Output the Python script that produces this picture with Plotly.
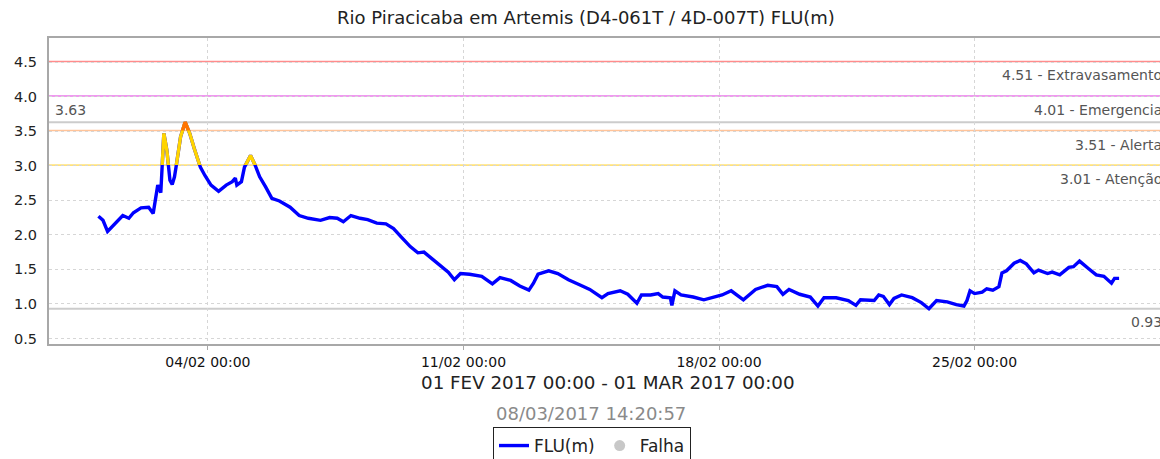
import plotly.graph_objects as go

# Water level readings (FLU, metres) for the gauge, Feb 2017
times = [
    "2017-02-01 00:00", "2017-02-01 03:00", "2017-02-01 06:00", "2017-02-01 11:00",
    "2017-02-01 16:00", "2017-02-01 20:00", "2017-02-01 23:00", "2017-02-02 04:00",
    "2017-02-02 09:00", "2017-02-02 12:00", "2017-02-02 14:00", "2017-02-02 15:00",
    "2017-02-02 17:00", "2017-02-02 18:00", "2017-02-02 19:00", "2017-02-02 21:00",
    "2017-02-02 22:00", "2017-02-02 23:00", "2017-02-03 00:30", "2017-02-03 02:00",
    "2017-02-03 03:00", "2017-02-03 06:00", "2017-02-03 09:00", "2017-02-03 12:00",
    "2017-02-03 15:00", "2017-02-03 19:00", "2017-02-03 22:00", "2017-02-04 02:00",
    "2017-02-04 07:00", "2017-02-04 12:00", "2017-02-04 16:00", "2017-02-04 18:00",
    "2017-02-04 19:00", "2017-02-04 22:00", "2017-02-05 00:00", "2017-02-05 04:00",
    "2017-02-05 07:00", "2017-02-05 10:00", "2017-02-05 14:00", "2017-02-05 18:00",
    "2017-02-05 23:00", "2017-02-06 06:00", "2017-02-06 12:00", "2017-02-06 18:00",
    "2017-02-07 02:00", "2017-02-07 08:00", "2017-02-07 13:00", "2017-02-07 17:00",
    "2017-02-07 22:00", "2017-02-08 04:00", "2017-02-08 09:00", "2017-02-08 15:00",
    "2017-02-08 21:00", "2017-02-09 02:00", "2017-02-09 07:00", "2017-02-09 13:00",
    "2017-02-09 18:00", "2017-02-09 22:00", "2017-02-10 03:00", "2017-02-10 10:00",
    "2017-02-10 14:00", "2017-02-10 18:00", "2017-02-10 22:00", "2017-02-11 04:00",
    "2017-02-11 12:00", "2017-02-11 19:00", "2017-02-12 00:00", "2017-02-12 07:00",
    "2017-02-12 13:00", "2017-02-12 19:00", "2017-02-12 22:00", "2017-02-13 01:00",
    "2017-02-13 08:00", "2017-02-13 14:00", "2017-02-13 21:00", "2017-02-14 05:00",
    "2017-02-14 11:00", "2017-02-14 19:00", "2017-02-14 23:00", "2017-02-15 07:00",
    "2017-02-15 12:00", "2017-02-15 18:00", "2017-02-15 21:00", "2017-02-16 03:00",
    "2017-02-16 08:00", "2017-02-16 11:00", "2017-02-16 16:00", "2017-02-16 17:00",
    "2017-02-16 19:00", "2017-02-16 23:00", "2017-02-17 07:00", "2017-02-17 14:00",
    "2017-02-17 20:00", "2017-02-18 02:00", "2017-02-18 08:00", "2017-02-18 16:00",
    "2017-02-19 00:00", "2017-02-19 08:00", "2017-02-19 14:00", "2017-02-19 18:00",
    "2017-02-19 22:00", "2017-02-20 05:00", "2017-02-20 12:00", "2017-02-20 17:00",
    "2017-02-20 21:00", "2017-02-21 05:00", "2017-02-21 13:00", "2017-02-21 18:00",
    "2017-02-21 21:00", "2017-02-22 06:00", "2017-02-22 09:00", "2017-02-22 12:00",
    "2017-02-22 16:00", "2017-02-22 19:00", "2017-02-23 00:00", "2017-02-23 07:00",
    "2017-02-23 13:00", "2017-02-23 18:00", "2017-02-23 23:00", "2017-02-24 06:00",
    "2017-02-24 12:00", "2017-02-24 17:00", "2017-02-24 19:00", "2017-02-24 21:00",
    "2017-02-25 00:00", "2017-02-25 05:00", "2017-02-25 08:00", "2017-02-25 12:00",
    "2017-02-25 16:00", "2017-02-25 18:00", "2017-02-25 21:00", "2017-02-26 02:00",
    "2017-02-26 06:00", "2017-02-26 10:00", "2017-02-26 15:00", "2017-02-26 18:00",
    "2017-02-27 00:00", "2017-02-27 03:00", "2017-02-27 08:00", "2017-02-27 14:00",
    "2017-02-27 17:00", "2017-02-27 21:00", "2017-02-28 03:00", "2017-02-28 08:00",
    "2017-02-28 13:00", "2017-02-28 18:00", "2017-02-28 20:00", "2017-02-28 23:00",
]
levels = [
    2.27, 2.21, 2.05, 2.16,
    2.28, 2.24, 2.32, 2.39,
    2.40, 2.31, 2.60, 2.72,
    2.61, 2.96, 3.47, 3.22,
    2.98, 2.79, 2.73, 2.84,
    2.98, 3.42, 3.63, 3.47,
    3.25, 2.98, 2.86, 2.72,
    2.63, 2.72, 2.77, 2.82,
    2.72, 2.77, 2.98, 3.15,
    3.01, 2.84, 2.69, 2.53,
    2.49, 2.40, 2.28, 2.24,
    2.21, 2.25, 2.24, 2.19,
    2.28, 2.24, 2.22, 2.17,
    2.16, 2.09, 1.97, 1.83,
    1.74, 1.75, 1.66, 1.54,
    1.46, 1.35, 1.44, 1.43,
    1.40, 1.29, 1.38, 1.34,
    1.26, 1.20, 1.30, 1.43,
    1.48, 1.44, 1.35, 1.27,
    1.21, 1.09, 1.15, 1.19,
    1.14, 1.01, 1.13, 1.13,
    1.15, 1.10, 1.09, 0.98,
    1.19, 1.13, 1.10, 1.06,
    1.10, 1.13, 1.19, 1.06,
    1.21, 1.27, 1.25, 1.14,
    1.21, 1.14, 1.10, 0.97,
    1.09, 1.09, 1.05, 0.98,
    1.06, 1.05, 1.13, 1.11,
    0.99, 1.08, 1.13, 1.09,
    1.02, 0.93, 1.05, 1.03,
    0.99, 0.97, 1.05, 1.19,
    1.15, 1.17, 1.22, 1.20,
    1.25, 1.45, 1.48, 1.59,
    1.63, 1.58, 1.45, 1.49,
    1.44, 1.46, 1.42, 1.53,
    1.54, 1.62, 1.51, 1.42,
    1.40, 1.30, 1.37, 1.37,
]

# Alarm levels
limit_values = [4.51, 4.01, 3.51, 3.01]
limit_names = ["Extravasamento", "Emergencia", "Alerta", "Atenção"]
limit_colors = ["#ff8c8c", "#ea78ea", "#ffc49a", "#ffe27a"]

title_text = "Rio Piracicaba em Artemis (D4-061T / 4D-007T) FLU(m)"
period_text = "01 FEV 2017 00:00 - 01 MAR 2017 00:00"
stamp_text = "08/03/2017 14:20:57"

W, H = 1160, 459
L, T, B = 49, 38, 115
plot_w = W - L
plot_h = H - T - B

y_lo, y_hi = 0.42, 4.85
x_range = ["2017-01-30 15:30", "2017-03-02 01:54"]
FONT = "DejaVu Sans"


def yfrac(v):
    return (v - y_lo) / (y_hi - y_lo)


def px_x(p):
    return (p - L) / plot_w


def px_y(p):
    return (H - B - p) / plot_h


level_max = max(levels)
level_min = min(levels)

fig = go.Figure()
fig.add_trace(go.Scatter(
    x=times, y=levels, mode="lines", name="FLU(m)",
    line=dict(color="#0000ff", width=3.4),
))
fig.add_trace(go.Scatter(
    x=[None], y=[None], mode="markers", name="Falha",
    marker=dict(color="#c8c8c8", size=11),
))
# Same series redrawn on axes whose domains start at the alarm levels,
# so only the parts above each level show in the alarm colour.
fig.add_trace(go.Scatter(
    x=times, y=levels, mode="lines", yaxis="y2", showlegend=False,
    line=dict(color="#ffd400", width=3.4), hoverinfo="skip",
))
fig.add_trace(go.Scatter(
    x=times, y=levels, mode="lines", yaxis="y3", showlegend=False,
    line=dict(color="#ff7400", width=3.4), hoverinfo="skip",
))

shapes = []
annotations = []
for v, name, col in zip(limit_values, limit_names, limit_colors):
    shapes.append(dict(type="line", xref="paper", yref="y", x0=0, x1=1, y0=v, y1=v,
                       line=dict(color=col, width=1.6), layer="below"))
    annotations.append(dict(text=f"{v:.2f} - {name}", xref="paper", yref="y",
                            x=px_x(1164), y=v, xanchor="right", yanchor="middle",
                            yshift=-14, showarrow=False,
                            font=dict(family=FONT, size=14, color="#555555")))

for v in (level_max, level_min):
    shapes.append(dict(type="line", xref="paper", yref="y", x0=0, x1=1, y0=v, y1=v,
                       line=dict(color="#cccccc", width=2), layer="below"))
annotations.append(dict(text=f"{level_max:.2f}", xref="paper", yref="y",
                        x=px_x(53), y=level_max, xanchor="left", yanchor="middle",
                        yshift=12, showarrow=False,
                        font=dict(family=FONT, size=14, color="#555555")))
annotations.append(dict(text=f"{level_min:.2f}", xref="paper", yref="y",
                        x=px_x(1164), y=level_min, xanchor="right", yanchor="middle",
                        yshift=-13, showarrow=False,
                        font=dict(family=FONT, size=14, color="#555555")))
annotations.append(dict(text=period_text, xref="paper", yref="paper",
                        x=px_x(608), y=px_y(382), xanchor="center", yanchor="middle",
                        showarrow=False, font=dict(family=FONT, size=18.3, color="#222222")))
annotations.append(dict(text=stamp_text, xref="paper", yref="paper",
                        x=px_x(591), y=px_y(413), xanchor="center", yanchor="middle",
                        showarrow=False, font=dict(family=FONT, size=18, color="#8a8a8a")))

fig.update_layout(
    width=W, height=H,
    margin=dict(l=L, r=0, t=T, b=B, pad=0, autoexpand=False),
    paper_bgcolor="white", plot_bgcolor="rgba(0,0,0,0)",
    font=dict(family=FONT, size=14, color="#222222"),
    title=dict(text=title_text, xref="container", yref="container",
               x=586 / W, y=1 - 18 / H, xanchor="center", yanchor="middle",
               font=dict(family=FONT, size=18, color="#222222")),
    xaxis=dict(type="date", range=x_range, tick0="2017-02-04", dtick=7 * 86400000,
               tickformat="%d/%m %H:%M", showgrid=True, gridcolor="#d6d6d6",
               griddash="3px,3px", gridwidth=1, showline=True, linecolor="#a8a8a8",
               linewidth=2, mirror=True, ticks="outside", ticklen=4, tickcolor="#a8a8a8",
               tickfont=dict(family=FONT, size=14, color="#111111"), zeroline=False),
    yaxis=dict(range=[y_lo, y_hi], tick0=0.5, dtick=0.5, tickformat=".1f",
               showgrid=True, gridcolor="#d6d6d6", griddash="3px,3px", gridwidth=1,
               showline=True, linecolor="#a8a8a8", linewidth=2, ticks="",
               ticklabelstandoff=7, zeroline=False,
               tickfont=dict(family=FONT, size=14.5, color="#222222")),
    yaxis2=dict(domain=[yfrac(limit_values[3]), 1], range=[limit_values[3], y_hi],
                visible=False, anchor="x", showgrid=False, zeroline=False),
    yaxis3=dict(domain=[yfrac(limit_values[2]), 1], range=[limit_values[2], y_hi],
                visible=False, anchor="x", showgrid=False, zeroline=False),
    showlegend=True,
    legend=dict(orientation="h", x=px_x(592), xanchor="center",
                y=px_y(427), yanchor="top", bordercolor="#222222", borderwidth=1,
                bgcolor="white", itemwidth=30,
                font=dict(family=FONT, size=17, color="#222222")),
    shapes=shapes,
    annotations=annotations,
)

fig.write_html("out.html")
